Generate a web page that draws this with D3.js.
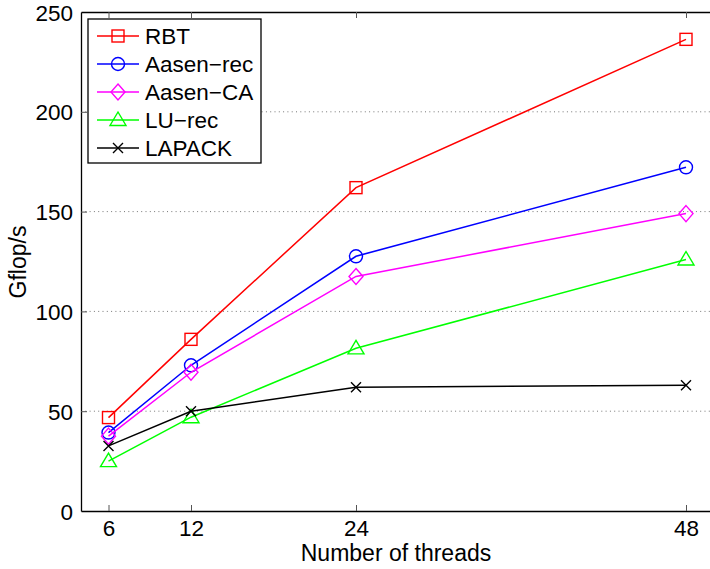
<!DOCTYPE html>
<html>
<head>
<meta charset="utf-8">
<script src="https://cdn.jsdelivr.net/npm/d3@7"></script>
<style>
  body { margin: 0; background: #fff; }
  text { font-family: "Liberation Sans", Arial, sans-serif; }
</style>
</head>
<body>
<svg id="chart" width="710" height="569"></svg>
<script>
var threads = [6, 12, 24, 48];
var rbt = [46.8, 86, 162, 236.3];
var aasenRec = [39.3, 73, 127.6, 172.2];
var aasenCA = [37.5, 69.5, 117.5, 149];
var luRec = [25, 47, 81.5, 126];
var lapack = [32.6, 50, 62, 63];
var yTicks = [0, 50, 100, 150, 200, 250];

var series = [
  { name: "RBT", values: rbt, color: "#ff0000", marker: "square" },
  { name: "Aasen\u2212rec", values: aasenRec, color: "#0000ff", marker: "circle" },
  { name: "Aasen\u2212CA", values: aasenCA, color: "#ff00ff", marker: "diamond" },
  { name: "LU\u2212rec", values: luRec, color: "#00ff00", marker: "triangle" },
  { name: "LAPACK", values: lapack, color: "#000000", marker: "cross" }
];

var plotLeft = 81, plotTop = 12, plotRight = 713.5, plotBottom = 511;
var fontSize = 22.5;
var svg = d3.select("#chart");

var xScale = d3.scaleLinear().domain([4, 50]).range([plotLeft, plotRight]);
var yScale = d3.scaleLinear().domain([0, 250]).range([plotBottom, plotTop]);

// grid lines
svg.append("g")
  .selectAll("line")
  .data(yTicks.filter(function (d) { return d > 0 && d < 250 }))
  .enter()
  .append("line")
  .attr("x1", plotLeft).attr("x2", plotRight)
  .attr("y1", function (d) { return yScale(d) })
  .attr("y2", function (d) { return yScale(d) })
  .attr("stroke", "#777")
  .attr("stroke-width", 1)
  .attr("stroke-dasharray", "1,3.3");

// axes, ticks inward
var xAxis = d3.axisBottom(xScale).tickValues(threads).tickSizeInner(-6).tickSizeOuter(0).tickPadding(9);
var xAxisTop = d3.axisTop(xScale).tickValues(threads).tickSizeInner(-6).tickSizeOuter(0).tickFormat("");
var yAxis = d3.axisLeft(yScale).tickValues(yTicks).tickSizeInner(-6).tickSizeOuter(0).tickPadding(8);

var gx = svg.append("g").attr("transform", "translate(0," + plotBottom + ")").call(xAxis);
var gxt = svg.append("g").attr("transform", "translate(0," + plotTop + ")").call(xAxisTop);
var gy = svg.append("g").attr("transform", "translate(" + plotLeft + ",0)").call(yAxis);

[gx, gxt, gy].forEach(function (g) {
  g.select(".domain").attr("stroke", "#000").attr("stroke-width", 1.3);
  g.selectAll(".tick line").attr("stroke", "#555").attr("stroke-width", 1);
  g.selectAll("text").attr("font-size", fontSize).attr("fill", "#000")
    .attr("font-family", "Liberation Sans, Arial, sans-serif");
});
gy.selectAll(".tick").filter(function (d) { return d == 0 || d == 250 }).select("line").remove();
gy.selectAll("text").attr("dy", "0.36em");

// axis labels
svg.append("text")
  .attr("x", 396)
  .attr("y", 561)
  .attr("text-anchor", "middle")
  .attr("font-size", 23)
  .text("Number of threads");

svg.append("text")
  .attr("transform", "translate(26,262) rotate(-90)")
  .attr("text-anchor", "middle")
  .attr("font-size", 23)
  .text("Gflop/s");

// marker shapes
var drawMarker = function (g, type, color) {
  if (type == "square") {
    g.append("rect").attr("x", -6).attr("y", -6).attr("width", 12).attr("height", 12)
      .attr("fill", "none").attr("stroke", color).attr("stroke-width", 1.4);
  } else if (type == "circle") {
    g.append("circle").attr("r", 6.5)
      .attr("fill", "none").attr("stroke", color).attr("stroke-width", 1.4);
  } else if (type == "diamond") {
    g.append("path").attr("d", "M0,-8L7,0L0,8L-7,0Z")
      .attr("fill", "none").attr("stroke", color).attr("stroke-width", 1.4);
  } else if (type == "triangle") {
    g.append("path").attr("d", "M0,-8L8,5.5L-8,5.5Z")
      .attr("fill", "none").attr("stroke", color).attr("stroke-width", 1.4);
  } else {
    g.append("path").attr("d", "M-5,-5L5,5M-5,5L5,-5")
      .attr("fill", "none").attr("stroke", color).attr("stroke-width", 1.4);
  }
};

var line = d3.line()
  .x(function (d) { return xScale(d.x) })
  .y(function (d) { return yScale(d.y) });

series.forEach(function (s) {
  var pts = threads.map(function (t, i) { return { x: t, y: s.values[i] } });
  svg.append("path")
    .datum(pts)
    .attr("d", line)
    .attr("fill", "none")
    .attr("stroke", s.color)
    .attr("stroke-width", 1.5);
  pts.forEach(function (p) {
    var g = svg.append("g").attr("transform", "translate(" + xScale(p.x) + "," + yScale(p.y) + ")");
    drawMarker(g, s.marker, s.color);
  });
});

// legend
var legend = svg.append("g").attr("transform", "translate(88,19)");
legend.append("rect")
  .attr("width", 173).attr("height", 144)
  .attr("fill", "#fff").attr("stroke", "#000").attr("stroke-width", 1.3);
series.forEach(function (s, i) {
  var y = 17 + i * 28;
  legend.append("line").attr("x1", 9).attr("x2", 51).attr("y1", y).attr("y2", y)
    .attr("stroke", s.color).attr("stroke-width", 1.5);
  var g = legend.append("g").attr("transform", "translate(30," + y + ")");
  drawMarker(g, s.marker, s.color);
  legend.append("text").attr("x", 57).attr("y", y).attr("dy", "0.36em")
    .attr("font-size", fontSize).text(s.name);
});
</script>
</body>
</html>
